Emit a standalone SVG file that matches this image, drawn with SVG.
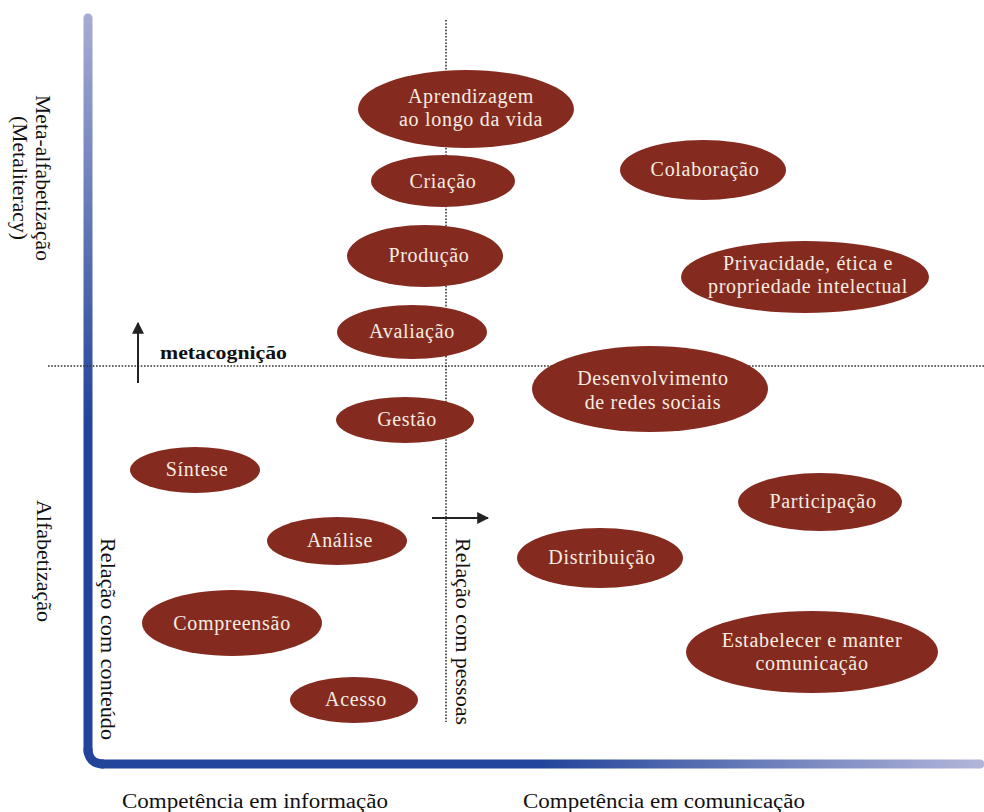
<svg xmlns="http://www.w3.org/2000/svg" width="984" height="812" viewBox="0 0 984 812">
<style>
.node ellipse{fill:#852a1f;}
.node text{fill:#f6ede2;font-family:"Liberation Serif",serif;font-size:20px;letter-spacing:0.7px;text-anchor:middle;}
.lbl{fill:#111;font-family:"Liberation Serif",serif;font-size:18px;}
.axl{fill:#111;font-family:"Liberation Serif",serif;font-size:20px;}
.dot{stroke:#333;stroke-width:1.6;stroke-dasharray:1.6 1.6;fill:none;}
.arr{stroke:#222;stroke-width:2;fill:none;}
</style>
<defs>
<linearGradient id="gv" gradientUnits="userSpaceOnUse" x1="0" y1="14" x2="0" y2="420">
<stop offset="0" stop-color="#a7acd3"/>
<stop offset="1" stop-color="#22449b"/>
</linearGradient>
<linearGradient id="gh" gradientUnits="userSpaceOnUse" x1="540" y1="0" x2="984" y2="0">
<stop offset="0" stop-color="#22449b"/>
<stop offset="1" stop-color="#b3b6da"/>
</linearGradient>
<marker id="ah" viewBox="0 0 10 10" refX="9" refY="5" markerWidth="6" markerHeight="6" orient="auto" markerUnits="strokeWidth">
<path d="M0,0 L10,5 L0,10 z" fill="#222"/>
</marker>
</defs>
<rect width="984" height="812" fill="#fff"/>
<g id="axes">
<line x1="88" y1="18" x2="88" y2="752" stroke="url(#gv)" stroke-width="9" stroke-linecap="round"/>
<path d="M88,748 Q88,764 104,764" stroke="#22449b" stroke-width="9" fill="none"/>
<line x1="102" y1="764" x2="980" y2="764" stroke="url(#gh)" stroke-width="9" stroke-linecap="round"/>
</g>
<g id="connectors">
<line class="dot" x1="48" y1="366" x2="984" y2="366"/>
<line class="dot" x1="446" y1="20" x2="446" y2="722"/>
<line class="arr" x1="138" y1="383" x2="138" y2="323" marker-end="url(#ah)"/>
<line class="arr" x1="432" y1="518" x2="488" y2="518" marker-end="url(#ah)"/>
</g>
<g id="labels">
<text class="lbl" x="160" y="359" font-weight="bold" textLength="127" lengthAdjust="spacingAndGlyphs">metacognição</text>
<text class="axl" transform="translate(36,178) rotate(90)" text-anchor="middle" textLength="166" lengthAdjust="spacingAndGlyphs">Meta-alfabetização</text>
<text class="axl" transform="translate(13,178) rotate(90)" text-anchor="middle" textLength="124" lengthAdjust="spacingAndGlyphs">(Metaliteracy)</text>
<text class="axl" transform="translate(37,561) rotate(90)" text-anchor="middle" textLength="122" lengthAdjust="spacingAndGlyphs">Alfabetização</text>
<text class="axl" transform="translate(101,538) rotate(90)" textLength="202" lengthAdjust="spacingAndGlyphs">Relação com conteúdo</text>
<text class="axl" transform="translate(456,538) rotate(90)" textLength="187" lengthAdjust="spacingAndGlyphs">Relação com pessoas</text>
<text class="axl" x="122" y="808" textLength="266" lengthAdjust="spacingAndGlyphs">Competência em informação</text>
<text class="axl" x="523" y="808" textLength="282" lengthAdjust="spacingAndGlyphs">Competência em comunicação</text>
</g>
<g id="n-aprendizagem" class="node"><ellipse cx="466" cy="109" rx="108" ry="39"/><text x="471" y="103">Aprendizagem</text><text x="471" y="126">ao longo da vida</text></g>
<g id="n-criacao" class="node"><ellipse cx="443" cy="181" rx="72" ry="26"/><text x="443" y="188">Criação</text></g>
<g id="n-colaboracao" class="node"><ellipse cx="703" cy="170" rx="83" ry="30"/><text x="705" y="176">Colaboração</text></g>
<g id="n-producao" class="node"><ellipse cx="425" cy="256" rx="78" ry="31"/><text x="429" y="262">Produção</text></g>
<g id="n-privacidade" class="node"><ellipse cx="805" cy="277" rx="124" ry="36"/><text x="808" y="270">Privacidade, ética e</text><text x="808" y="293">propriedade intelectual</text></g>
<g id="n-avaliacao" class="node"><ellipse cx="412" cy="332" rx="75" ry="27"/><text x="412" y="338">Avaliação</text></g>
<g id="n-desenvolvimento" class="node"><ellipse cx="650" cy="389" rx="118" ry="43"/><text x="653" y="385">Desenvolvimento</text><text x="653" y="409">de redes sociais</text></g>
<g id="n-gestao" class="node"><ellipse cx="405" cy="420" rx="69" ry="23"/><text x="407" y="426">Gestão</text></g>
<g id="n-sintese" class="node"><ellipse cx="195" cy="470" rx="65" ry="23"/><text x="197" y="476">Síntese</text></g>
<g id="n-participacao" class="node"><ellipse cx="820" cy="502" rx="82" ry="29"/><text x="823" y="508">Participação</text></g>
<g id="n-analise" class="node"><ellipse cx="337" cy="541" rx="70" ry="24"/><text x="340" y="547">Análise</text></g>
<g id="n-distribuicao" class="node"><ellipse cx="600" cy="558" rx="83" ry="30"/><text x="602" y="564">Distribuição</text></g>
<g id="n-compreensao" class="node"><ellipse cx="232" cy="623" rx="90" ry="33"/><text x="232" y="630">Compreensão</text></g>
<g id="n-estabelecer" class="node"><ellipse cx="812" cy="652" rx="126" ry="41"/><text x="812" y="647">Estabelecer e manter</text><text x="812" y="670">comunicação</text></g>
<g id="n-acesso" class="node"><ellipse cx="354" cy="700" rx="64" ry="23"/><text x="356" y="706">Acesso</text></g>
</svg>
